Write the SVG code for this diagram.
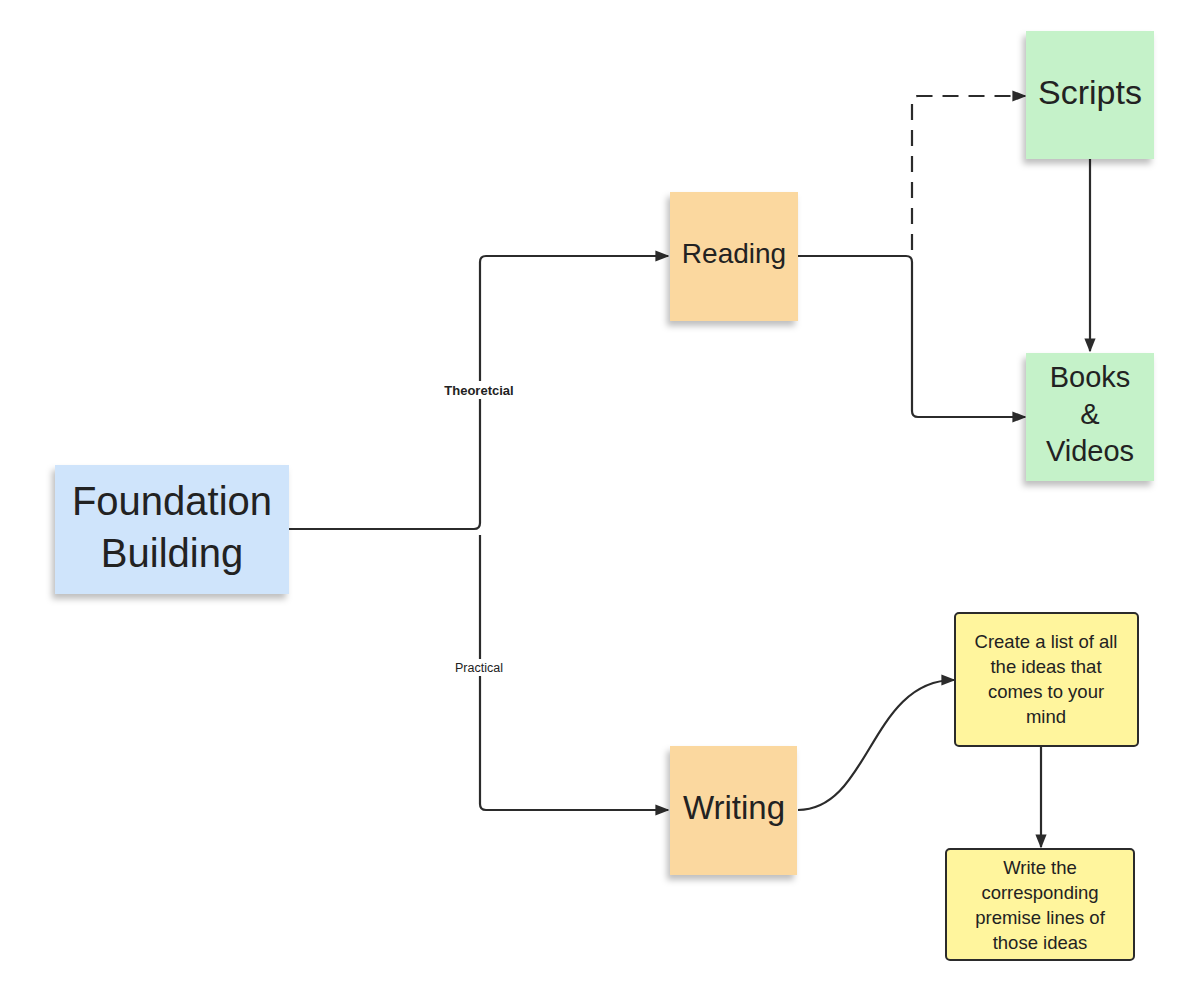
<svg xmlns="http://www.w3.org/2000/svg" width="1200" height="993" viewBox="0 0 1200 993">
<style>
text{font-family:"Liberation Sans",Arial,sans-serif;fill:#222;text-anchor:middle}
.c{fill:none;stroke:#2b2b2b;stroke-width:2.2}
.y{fill:#fff59d;stroke:#2b2b2b;stroke-width:2}
.lbl{font-size:13px}
.s{filter:url(#sh)}
</style>
<defs>
<marker id="a" viewBox="0 0 10 10" refX="9" refY="5" markerWidth="7" markerHeight="7" orient="auto" markerUnits="userSpaceOnUse">
<path d="M0,0 L10,5 L0,10 z" fill="#2b2b2b" transform="scale(1)"/>
</marker>
<marker id="b" viewBox="0 0 10 10" refX="9" refY="5" markerWidth="14" markerHeight="14" orient="auto" markerUnits="userSpaceOnUse">
<path d="M0,1 L10,5 L0,9 z" fill="#2b2b2b"/>
</marker>
<filter id="sh" x="-20%" y="-20%" width="140%" height="140%">
<feDropShadow dx="-3" dy="5" stdDeviation="3" flood-color="#000" flood-opacity="0.25"/>
</filter>
</defs>
<rect width="1200" height="993" fill="#fff"/>
<g id="connectors">
<path class="c" d="M289,529 H474 Q480,529 480,523 V262 Q480,256 486,256 H668" marker-end="url(#b)"/>
<path class="c" d="M480,535 V804 Q480,810 486,810 H668" marker-end="url(#b)"/>
<path class="c" d="M798,256 H906 Q912,256 912,262 V411 Q912,417 918,417 H1025" marker-end="url(#b)"/>
<path class="c" d="M912,250 V102 Q912,96 918,96 H1025" stroke-dasharray="16,10" marker-end="url(#b)"/>
<path class="c" d="M1090,159 V351" marker-end="url(#b)"/>
<path class="c" d="M798,810 C870,810 870,680 954,680" marker-end="url(#b)"/>
<path class="c" d="M1041,746 V847" marker-end="url(#b)"/>
<rect x="438" y="381" width="82" height="18" fill="#fff"/>
<text x="479" y="395" class="lbl" font-weight="bold">Theoretcial</text>
<rect x="450" y="659" width="58" height="17" fill="#fff"/>
<text x="479" y="672" class="lbl" style="font-size:12.5px">Practical</text>
</g>
<g id="foundation"><rect class="s" x="55" y="465" width="234" height="129" fill="#cfe4fb"/>
<text x="172" y="515" font-size="40">Foundation</text><text x="172" y="567" font-size="40">Building</text></g>
<g id="reading"><rect class="s" x="670" y="192" width="128" height="129" fill="#fbd89f"/>
<text x="734" y="263" font-size="28">Reading</text></g>
<g id="writing"><rect class="s" x="670" y="746" width="127" height="129" fill="#fbd89f"/>
<text x="734" y="819" font-size="33">Writing</text></g>
<g id="scripts"><rect class="s" x="1026" y="31" width="128" height="128" fill="#c5f2c9"/>
<text x="1090" y="104" font-size="34">Scripts</text></g>
<g id="books"><rect class="s" x="1026" y="353" width="128" height="128" fill="#c5f2c9"/>
<text x="1090" y="387" font-size="29">Books</text><text x="1090" y="424" font-size="29">&amp;</text><text x="1090" y="461" font-size="29">Videos</text></g>
<g id="list"><rect class="y" x="955" y="613" width="183" height="133" rx="4"/>
<text x="1046" y="648" font-size="18.5">Create a list of all</text><text x="1046" y="673" font-size="18.5">the ideas that</text><text x="1046" y="698" font-size="18.5">comes to your</text><text x="1046" y="723" font-size="18.5">mind</text></g>
<g id="premise"><rect class="y" x="946" y="849" width="188" height="111" rx="4"/>
<text x="1040" y="874" font-size="18.5">Write the</text><text x="1040" y="899" font-size="18.5">corresponding</text><text x="1040" y="924" font-size="18.5">premise lines of</text><text x="1040" y="949" font-size="18.5">those ideas</text></g>
</svg>
